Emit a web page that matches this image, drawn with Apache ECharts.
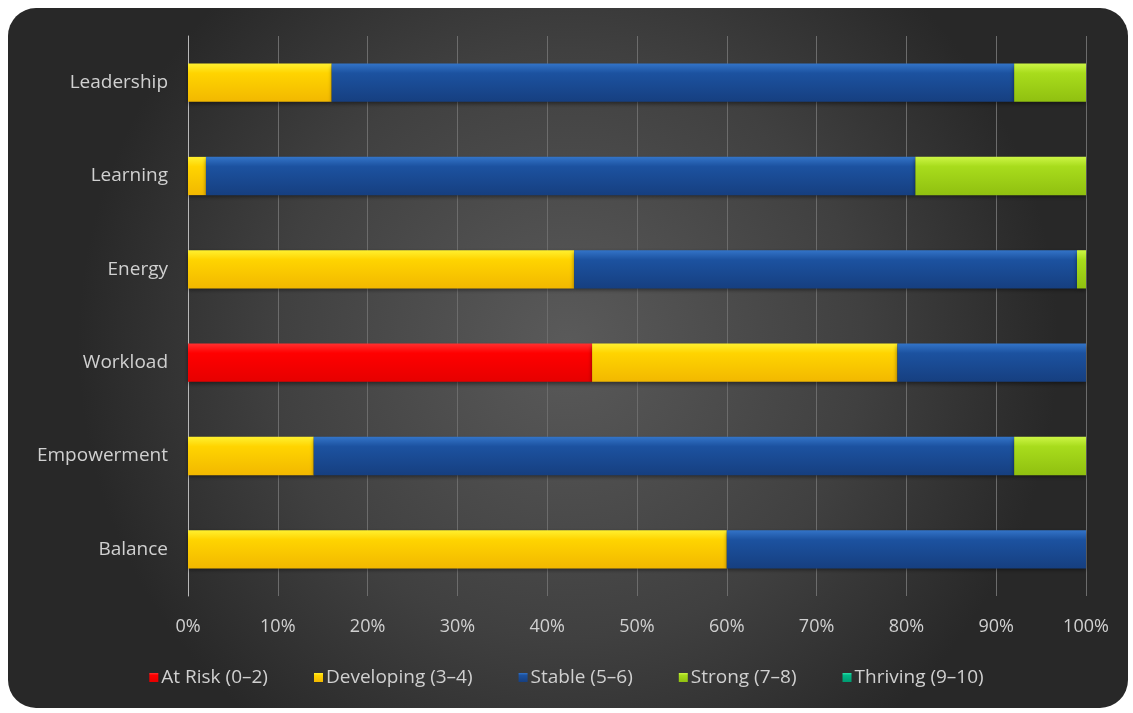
<!DOCTYPE html>
<html><head><meta charset="utf-8">
<script src="https://cdn.jsdelivr.net/npm/echarts@6/dist/echarts.min.js"></script>
<style>html,body{margin:0;padding:0;background:#fff;}#c{width:1133px;height:713px;}</style>
</head><body><div id="c"></div>
<script>
const categories = ['Balance','Empowerment','Workload','Energy','Learning','Leadership'];
const atRisk     = [0, 0, 45, 0, 0, 0];
const developing = [60, 14, 34, 43, 2, 16];
const stable     = [40, 78, 21, 56, 79, 76];
const strong     = [0, 8, 0, 1, 19, 8];
const thriving   = [0, 0, 0, 0, 0, 0];
const seriesNames = ['At Risk (0–2)','Developing (3–4)','Stable (5–6)','Strong (7–8)','Thriving (9–10)'];
const xTicks = [0,10,20,30,40,50,60,70,80,90,100];

const colors = [
  ['#ff3030','#ff0000','#e60000'],
  ['#fff030','#ffd400','#f2b800'],
  ['#3374c8','#1c52a0','#163f80'],
  ['#ccf545','#a8dc1c','#90c010'],
  ['#2ee0a8','#00b888','#009a70']
];
function grad(c){
  return new echarts.graphic.LinearGradient(0,0,0,1,[
    {offset:0,color:c[0]},{offset:0.25,color:c[1]},{offset:1,color:c[2]}]);
}
const data = [atRisk, developing, stable, strong, thriving];
const chart = echarts.init(document.getElementById('c'), null, {renderer:'canvas'});
const font = '"Open Sans", "Noto Sans", sans-serif';
chart.setOption({
  backgroundColor:'#ffffff',
  animation:false,
  graphic:[{
    type:'rect', z:-10, silent:true,
    shape:{x:8,y:8,width:1120,height:700,r:28},
    style:{fill:new echarts.graphic.RadialGradient(0.5,0.48,0.7,[
      {offset:0,color:'#5a5a5a'},{offset:0.6,color:'#404040'},{offset:1,color:'#282828'}])}
  }],
  grid:{left:188,right:47,top:36,bottom:117},
  legend:{
    bottom:21, left:'center', itemWidth:9, itemHeight:9, itemGap:46, icon:'rect',
    textStyle:{color:'#d0d0d0', fontSize:19, fontFamily:font, padding:[0,0,0,-2]},
    data:seriesNames
  },
  xAxis:{
    type:'value', min:0, max:100, interval:10,
    axisLabel:{formatter:v=>v+'%', color:'#d0d0d0', fontSize:18, fontFamily:font, margin:22},
    axisLine:{show:false}, axisTick:{show:false},
    splitLine:{lineStyle:{color:'#6c6c6c', width:1}}
  },
  yAxis:{
    type:'category', data:categories,
    axisLabel:{color:'#d0d0d0', fontSize:19, fontFamily:font, margin:20},
    axisLine:{show:true, lineStyle:{color:'#b8b8b8', width:1}},
    axisTick:{show:false}
  },
  series: seriesNames.map((n,i)=>({
    name:n, type:'bar', stack:'total', barWidth:'41%',
    data:data[i],
    itemStyle:{color:grad(colors[i]), shadowColor:'rgba(0,0,0,0.45)', shadowBlur:4, shadowOffsetY:2},
    emphasis:{disabled:true}
  }))
});
</script></body></html>
